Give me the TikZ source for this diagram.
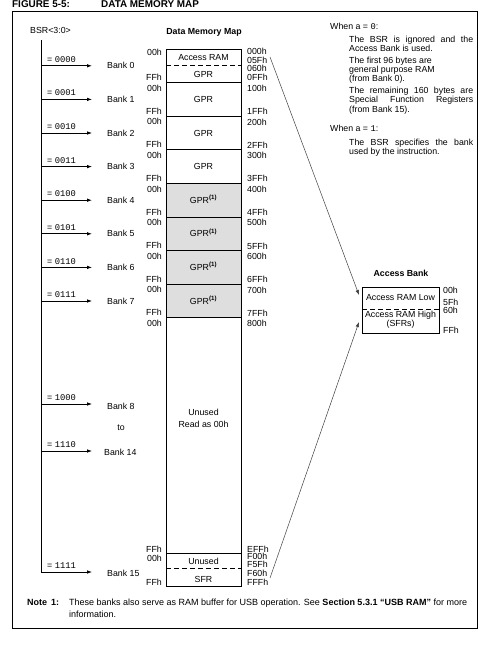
\documentclass[tikz,border=0pt]{standalone}
\usepackage{fontspec}
\setmainfont{Liberation Sans}
\setmonofont{Liberation Mono}
\usetikzlibrary{arrows.meta}
\newcommand{\dmfs}{\fontsize{8.8}{10}\selectfont}
\newcommand{\dmjust}[1]{\makebox[124pt][s]{#1}}
\begin{document}
\begin{tikzpicture}[x=1pt,y=-1pt,
  txt/.style={inner sep=0pt, font=\dmfs, text height=6.2pt, text depth=0pt},
  btxt/.style={txt, font=\dmfs\bfseries},
  lbl/.style={txt, anchor=west},
  rlbl/.style={txt, anchor=east},
  mem/.style={line width=0.8pt},
  memdash/.style={line width=0.8pt, dash pattern=on 5pt off 3pt},
  bsrarrow/.style={line width=0.8pt, -{Latex[length=5pt,width=3.6pt]}},
  accarrow/.style={line width=0.5pt, draw=black!75, -{Latex[length=5pt,width=3.6pt]}},
  shade/.style={fill=black!13}
]
\useasboundingbox (0,0) rectangle (492,647);

% title and frame
\node[btxt, anchor=west, font=\fontsize{9.9}{11}\selectfont\bfseries, text height=7.1pt] (fig) at (12,4) {FIGURE 5-5:};
\node[btxt, anchor=west, font=\fontsize{9.9}{11}\selectfont\bfseries, text height=7.1pt] (ttl) at (101,4) {DATA MEMORY MAP};
\draw[line width=0.8pt] (12,11) rectangle (477.5,628);

% BSR
\node[lbl] (bsr) at (30,30) {BSR<3:0>};
\node[btxt] (dmm) at (204,31) {Data Memory Map};
\coordinate (vtop) at (41,40);
\coordinate (be15) at (92,572);
\draw[bsrarrow] (vtop) |- (be15);
\node[lbl] (bits15) at (47,565.5) {= {\ttfamily 1111}};

\foreach \i/\y/\b in {0/65.8/0000,1/99.4/0001,2/133/0010,3/166.6/0011,4/200.2/0100,5/233.8/0101,6/267.4/0110,7/301/0111,8/404/1000,14/451/1110}{
  \coordinate (bs\i) at (41,\y);
  \coordinate (be\i) at (92,\y);
  \draw[bsrarrow] (bs\i) -- (be\i);
  \node[lbl] (bits\i) at (47,\y-6.5) {= {\ttfamily\b}};
}

% bank names
\foreach \i/\y in {0/65.8,1/99.4,2/133,3/166.6,4/200.2,5/233.8,6/267.4,7/301}{
  \node[lbl] (bank\i) at (107,\y) {Bank \i};
}
\node[lbl] (bank8) at (107,406) {Bank 8};
\node[txt] (bankto) at (121,427) {to};
\node[lbl] (bank14) at (104,452) {Bank 14};
\node[lbl] (bank15) at (107,573) {Bank 15};

% memory map
\fill[shade] (166,183.4) rectangle (241,317.8);
\draw[mem] (166,49) rectangle (241,586);
\foreach \y in {82.6,116.2,149.8,183.4,217,250.6,284.2,317.8,553}{
  \draw[mem] (166,\y) -- (241,\y);
}
\draw[memdash] (166,65) -- (241,65);
\draw[memdash] (166,568) -- (241,568);

\node[txt] (accram) at (203.5,57) {Access RAM};
\node[txt] (gpr0) at (203.5,74) {GPR};
\foreach \i/\y in {1/99.4,2/133,3/166.6}{
  \node[txt] (gpr\i) at (203.5,\y) {GPR};
}
\foreach \i/\y in {4/200.2,5/233.8,6/267.4,7/301}{
  \node[txt] (gpr\i) at (203.5,\y) {GPR\textsuperscript{\bfseries(1)}};
}
\node[txt] (unused) at (203.5,412) {Unused};
\node[txt] (readas) at (203.5,424) {Read as 00h};
\node[txt] (unused15) at (203.5,561) {Unused};
\node[txt] (sfr) at (203.5,579) {SFR};

% left offsets
\foreach \n/\y in {a/52,b/88,c/121.7,d/155.3,e/188.9,f/222.5,g/256.1,h/289.7,i/323.3,j/558}{
  \node[rlbl] (lz\n) at (162,\y) {00h};
}
\foreach \n/\y in {a/77.6,b/111.2,c/144.8,d/178.4,e/212,f/245.6,g/279.2,h/312.8,i/549,j/582}{
  \node[rlbl] (lf\n) at (162,\y) {FFh};
}

% right addresses
\foreach \n/\y/\t in {a/51/000h,b/60.5/05Fh,c/68/060h,d/77/0FFh,e/88/100h,f/111/1FFh,g/122/200h,h/145/2FFh,i/155/300h,j/178/3FFh,k/189/400h,l/212/4FFh,m/222/500h,n/246/5FFh,o/256/600h,p/279/6FFh,q/290/700h,r/313/7FFh,s/323/800h,t/549/EFFh,u/556.5/F00h,v/564.5/F5Fh,w/573/F60h,x/582/FFFh}{
  \node[lbl] (ra\n) at (247,\y) {\t};
}

% access bank
\node[btxt] (abt) at (401,273) {Access Bank};
\node[draw, line width=0.8pt, minimum width=77pt, minimum height=46pt, inner sep=0pt, anchor=north west] (abox) at (362,287) {};
\draw[memdash] (362,309) -- (439,309);
\node[txt] (arl) at (400.5,297) {Access RAM Low};
\node[txt] (arh) at (400.5,314) {Access RAM High};
\node[txt] (sfrs) at (400.5,323.5) {(SFRs)};
\node[lbl] (ab00) at (443,290) {00h};
\node[lbl] (ab5f) at (443,302) {5Fh};
\node[lbl] (ab60) at (443,310) {60h};
\node[lbl] (abff) at (443,330) {FFh};

\coordinate (l1s) at (270,57);
\coordinate (l1e) at (359,295);
\coordinate (l2s) at (270,578);
\coordinate (l2e) at (359,322);
\draw[accarrow] (l1s) -- (l1e);
\draw[accarrow] (l2s) -- (l2e);

% explanatory text
\node[lbl] (wa0) at (330,26) {When a = {\ttfamily 0}:};
\node[lbl] (t1) at (349,39) {\dmjust{The BSR is ignored and the}};
\node[lbl] (t2) at (349,48) {Access Bank is used.};
\node[lbl] (t3) at (349,60) {The first 96 bytes are};
\node[lbl] (t4) at (349,69) {general purpose RAM};
\node[lbl] (t5) at (349,78) {(from Bank 0).};
\node[lbl] (t6) at (349,90) {\dmjust{The remaining 160 bytes are}};
\node[lbl] (t7) at (349,99.5) {\dmjust{Special Function Registers}};
\node[lbl] (t8) at (349,109) {(from Bank 15).};
\node[lbl] (wa1) at (330,128) {When a = {\ttfamily 1}:};
\node[lbl] (t9) at (349,142) {\dmjust{The BSR specifies the bank}};
\node[lbl] (t10) at (349,151.5) {used by the instruction.};

% note
\node[btxt, anchor=west, font=\fontsize{9}{10}\selectfont\bfseries] (note) at (27,602) {Note\hspace{4pt}1:};
\node[lbl, font=\fontsize{9}{10}\selectfont] (n1) at (69,602) {These banks also serve as RAM buffer for USB operation. See \textbf{Section 5.3.1 “USB RAM”} for more};
\node[lbl, font=\fontsize{9}{10}\selectfont] (n2) at (69,614) {information.};
\end{tikzpicture}
\end{document}
